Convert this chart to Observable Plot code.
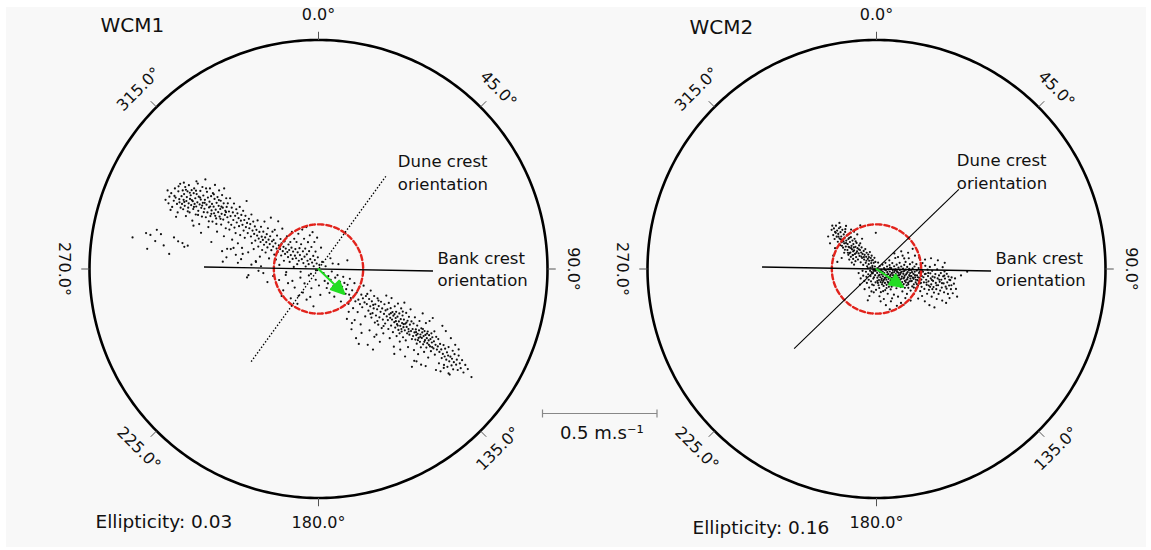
<!DOCTYPE html>
<html><head><meta charset="utf-8">
<script src="https://cdn.jsdelivr.net/npm/d3@7"></script>
<script src="https://cdn.jsdelivr.net/npm/@observablehq/plot@0.6"></script>
<style>
html,body{margin:0;padding:0;background:#fff;}
#wrap{position:relative;width:1151px;height:550px;overflow:hidden;}
#bg{position:absolute;left:6px;top:7px;width:1140px;height:540px;background:#f8f8f8;}
#wrap svg{position:absolute;left:0;top:0;}
</style></head><body><div id="wrap"><div id="bg"></div></div>
<script>
// ---------------- data ----------------
const panels = ["WCM1", "WCM2"];
const ellipticity = [0.03, 0.16];
const meanSpeed = [0.195, 0.195];          // red dashed ring (m/s)
const outerRing = 1.0;                      // outer ring (m/s)
const bankCrest = [91, 91];                 // orientation (deg)
const duneCrest = [36, 46];                 // orientation (deg)
const crestHalfLength = 0.5;                // m/s
const residualBearing = [134, 124];         // green arrow (deg)
const residualSpeed = [0.157, 0.14];        // green arrow (m/s)
const bearingTicks = [0, 45, 90, 135, 180, 225, 270, 315];
const scaleBarValue = 0.5;                  // m/s
const lineLabels = ["Dune crest\norientation", "Bank crest\norientation"];

// velocity samples [east, north] in m/s
const wcm1Points = [
[-0.812,0.138],[-0.753,0.157],[-0.734,0.149],[-0.748,0.088],[-0.706,0.171],[-0.688,0.152],[-0.652,0.066],[-0.631,0.138],[-0.613,0.121],[-0.594,0.113],[-0.586,0.097],[-0.571,0.102],[-0.713,0.122],[-0.676,0.103],
[-0.668,0.302],[-0.655,0.287],[-0.651,0.316],[-0.643,0.331],[-0.639,0.271],[-0.632,0.298],[-0.627,0.352],[-0.624,0.312],[-0.618,0.284],[-0.615,0.247],[-0.612,0.339],[-0.608,0.305],[-0.604,0.372],[-0.602,0.268],[-0.611,0.361],[-0.646,0.258],[-0.622,0.228],[-0.659,0.343],[-0.607,0.291],[-0.629,0.319],
[-0.598,0.318],[-0.596,0.284],[-0.593,0.343],[-0.591,0.261],[-0.589,0.302],[-0.587,0.327],[-0.584,0.276],[-0.582,0.358],[-0.579,0.231],[-0.577,0.297],[-0.575,0.314],[-0.572,0.339],[-0.569,0.268],[-0.567,0.287],[-0.566,0.366],[-0.563,0.247],[-0.561,0.306],[-0.558,0.322],[-0.556,0.279],[-0.554,0.344],[-0.551,0.211],[-0.549,0.296],[-0.547,0.262],[-0.545,0.331],[-0.543,0.352],[-0.541,0.284],[-0.538,0.309],[-0.536,0.238],[-0.534,0.273],[-0.532,0.327],[-0.529,0.291],[-0.527,0.373],[-0.525,0.254],[-0.523,0.316],[-0.521,0.196],[-0.519,0.282],[-0.516,0.341],[-0.514,0.303],[-0.512,0.267],[-0.509,0.229],[-0.507,0.358],[-0.505,0.289],[-0.503,0.321],[-0.501,0.248],[-0.571,0.252],[-0.562,0.333],[-0.553,0.301],[-0.544,0.271],[-0.535,0.342],[-0.526,0.236],[-0.517,0.312],[-0.508,0.277],[-0.586,0.293],[-0.579,0.346],[-0.546,0.189],[-0.513,0.158],[-0.533,0.383],[-0.588,0.377],
[-0.498,0.263],[-0.496,0.302],[-0.494,0.391],[-0.492,0.226],[-0.489,0.281],[-0.487,0.337],[-0.485,0.247],[-0.483,0.312],[-0.481,0.183],[-0.478,0.269],[-0.476,0.294],[-0.474,0.352],[-0.472,0.231],[-0.469,0.318],[-0.467,0.256],[-0.465,0.284],[-0.463,0.207],[-0.461,0.331],[-0.458,0.272],[-0.456,0.243],[-0.454,0.306],[-0.452,0.367],[-0.449,0.259],[-0.447,0.221],[-0.445,0.289],[-0.443,0.163],[-0.441,0.314],[-0.438,0.248],[-0.436,0.276],[-0.434,0.343],[-0.432,0.229],[-0.429,0.262],[-0.427,0.298],[-0.425,0.194],[-0.423,0.241],[-0.421,0.323],[-0.418,0.268],[-0.416,0.216],[-0.414,0.287],[-0.412,0.352],[-0.409,0.236],[-0.407,0.254],[-0.405,0.178],[-0.403,0.309],[-0.401,0.271],[-0.491,0.352],[-0.479,0.208],[-0.468,0.241],[-0.457,0.326],[-0.446,0.197],[-0.435,0.301],[-0.424,0.272],[-0.413,0.143],[-0.497,0.289],[-0.473,0.273],[-0.451,0.232],[-0.428,0.219],[-0.404,0.248],
[-0.398,0.226],[-0.396,0.287],[-0.393,0.204],[-0.391,0.251],[-0.389,0.172],[-0.386,0.309],[-0.384,0.231],[-0.381,0.193],[-0.379,0.268],[-0.377,0.128],[-0.374,0.247],[-0.372,0.214],[-0.369,0.286],[-0.367,0.181],[-0.364,0.232],[-0.362,0.157],[-0.359,0.261],[-0.357,0.203],[-0.354,0.243],[-0.352,0.112],[-0.349,0.222],[-0.347,0.187],[-0.344,0.271],[-0.342,0.148],[-0.339,0.211],[-0.337,0.236],[-0.334,0.092],[-0.332,0.193],[-0.329,0.254],[-0.327,0.168],[-0.324,0.214],[-0.322,0.136],[-0.319,0.232],[-0.317,0.183],[-0.314,0.297],[-0.312,0.201],[-0.309,0.157],[-0.307,0.073],[-0.304,0.219],[-0.302,0.178],[-0.383,0.087],[-0.361,0.062],[-0.338,0.043],
[-0.298,0.196],[-0.295,0.142],[-0.293,0.238],[-0.291,0.113],[-0.288,0.168],[-0.285,0.207],[-0.283,0.087],[-0.281,0.153],[-0.278,0.186],[-0.276,0.124],[-0.273,0.031],[-0.271,0.171],[-0.268,0.146],[-0.266,0.212],[-0.263,0.098],[-0.261,0.133],[-0.258,0.162],[-0.256,0.054],[-0.253,0.118],[-0.251,0.184],[-0.248,0.141],[-0.246,0.083],[-0.243,0.127],[-0.241,0.163],[-0.238,0.106],[-0.236,0.207],[-0.233,0.138],[-0.231,0.072],[-0.228,0.117],[-0.226,0.152],[-0.223,0.094],[-0.221,0.178],[-0.218,0.128],[-0.216,0.046],[-0.213,0.109],[-0.211,0.143],[-0.208,0.224],[-0.206,0.082],[-0.203,0.121],[-0.201,0.163],
[-0.198,0.098],[-0.196,0.127],[-0.193,0.063],[-0.191,0.171],[-0.188,0.112],[-0.186,0.041],[-0.183,0.089],[-0.181,0.146],[-0.178,0.074],[-0.176,0.208],[-0.173,0.103],[-0.171,0.018],[-0.168,0.087],[-0.166,0.131],[-0.163,0.059],[-0.161,0.112],[-0.158,0.176],[-0.156,0.078],[-0.153,0.097],[-0.151,0.036],[-0.148,0.121],[-0.146,0.066],[-0.143,0.089],[-0.141,-0.014],[-0.138,0.143],[-0.136,0.074],[-0.133,0.052],[-0.131,0.107],[-0.128,0.083],[-0.126,0.031],[-0.123,0.118],[-0.121,0.061],[-0.118,0.093],[-0.116,0.162],[-0.113,0.044],[-0.111,0.076],[-0.108,0.009],[-0.106,0.132],[-0.103,0.058],[-0.101,0.087],
[-0.098,0.047],[-0.096,0.118],[-0.093,0.021],[-0.091,0.073],[-0.088,0.154],[-0.086,0.036],[-0.083,0.091],[-0.081,0.061],[-0.078,-0.012],[-0.076,0.108],[-0.073,0.043],[-0.071,0.172],[-0.068,0.077],[-0.066,0.026],[-0.063,0.132],[-0.061,0.054],[-0.058,0.089],[-0.056,0.011],[-0.053,0.183],[-0.051,0.064],[-0.048,0.036],[-0.046,0.117],[-0.043,0.021],[-0.041,0.078],[-0.038,0.147],[-0.036,0.043],[-0.033,-0.021],[-0.031,0.096],[-0.028,0.028],[-0.026,0.161],[-0.023,0.057],[-0.021,0.012],[-0.018,0.118],[-0.016,0.039],[-0.013,0.076],[-0.011,-0.006],[-0.008,0.024],[-0.006,0.137],[-0.003,0.051],[0.004,0.018],[0.011,0.093],[0.016,0.031],
[-0.172,-0.048],[-0.154,-0.093],[-0.133,-0.062],[-0.121,-0.128],[-0.104,-0.081],[-0.092,-0.152],[-0.079,-0.038],[-0.068,-0.103],[-0.061,-0.063],[-0.052,-0.134],[-0.042,-0.028],[-0.031,-0.084],[-0.022,-0.163],[-0.012,-0.047],[0.008,-0.113],[-0.198,-0.031],[-0.161,-0.118],[-0.143,-0.026],[-0.087,-0.117],[-0.036,-0.122],[-0.114,-0.052],[0.002,-0.072],
[-0.241,-0.018],[-0.223,-0.057],[-0.262,-0.008],[-0.312,-0.037],[-0.421,0.078],[-0.402,0.051],[-0.371,0.092],[-0.352,0.027],[-0.331,0.066],[-0.293,0.019],[-0.274,0.034],[-0.468,0.118],[-0.399,0.088],[-0.418,0.032],[-0.306,-0.027],[-0.251,0.012],
[0.022,-0.018],[0.027,-0.052],[0.031,0.012],[0.036,-0.083],[0.043,-0.031],[0.048,-0.104],[0.053,-0.047],[0.058,-0.011],[0.064,-0.076],[0.069,-0.121],[0.073,-0.038],[0.078,-0.068],[0.083,-0.027],[0.089,-0.097],[0.094,-0.056],[0.098,-0.142],[0.103,-0.078],[0.108,-0.034],[0.113,-0.061],[0.118,-0.108],[0.052,0.047],[0.087,0.021],[0.126,0.038],[0.062,0.024],[0.041,-0.063],
[0.121,-0.088],[0.124,-0.218],[0.127,-0.069],[0.131,-0.152],[0.134,-0.112],[0.137,-0.043],[0.141,-0.127],[0.144,-0.263],[0.147,-0.093],[0.151,-0.171],[0.154,-0.118],[0.157,-0.062],[0.161,-0.141],[0.164,-0.302],[0.167,-0.103],[0.171,-0.188],[0.174,-0.134],[0.177,-0.081],[0.181,-0.153],[0.184,-0.242],[0.187,-0.112],[0.191,-0.167],[0.194,-0.128],[0.197,-0.073],[0.201,-0.146],[0.204,-0.207],[0.207,-0.118],[0.132,-0.187],[0.158,-0.223],[0.188,-0.279],[0.146,-0.236],[0.176,-0.327],
[0.211,-0.153],[0.213,-0.109],[0.215,-0.331],[0.218,-0.182],[0.221,-0.131],[0.223,-0.268],[0.226,-0.163],[0.228,-0.094],[0.231,-0.212],[0.233,-0.141],[0.236,-0.193],[0.238,-0.352],[0.241,-0.172],[0.243,-0.118],[0.246,-0.234],[0.248,-0.154],[0.251,-0.203],[0.253,-0.287],[0.256,-0.176],[0.258,-0.128],[0.261,-0.243],[0.263,-0.162],[0.266,-0.211],[0.268,-0.318],[0.271,-0.187],[0.273,-0.143],[0.276,-0.258],[0.278,-0.172],[0.281,-0.221],[0.283,-0.281],[0.286,-0.196],[0.288,-0.154],[0.291,-0.238],[0.293,-0.181],[0.296,-0.116],[0.298,-0.207],[0.227,-0.196],[0.244,-0.296],[0.262,-0.138],[0.284,-0.249],[0.257,-0.227],[0.239,-0.157],
[0.301,-0.176],[0.303,-0.223],[0.305,-0.262],[0.307,-0.148],[0.309,-0.198],[0.311,-0.302],[0.313,-0.213],[0.315,-0.171],[0.317,-0.247],[0.319,-0.127],[0.321,-0.221],[0.323,-0.188],[0.325,-0.276],[0.327,-0.204],[0.329,-0.339],[0.331,-0.232],[0.333,-0.163],[0.335,-0.256],[0.337,-0.214],[0.339,-0.187],[0.341,-0.293],[0.343,-0.241],[0.345,-0.208],[0.347,-0.151],[0.349,-0.266],[0.351,-0.229],[0.353,-0.194],[0.355,-0.317],[0.357,-0.248],[0.359,-0.219],[0.361,-0.172],[0.363,-0.273],[0.365,-0.236],[0.367,-0.203],[0.369,-0.298],[0.371,-0.254],[0.373,-0.221],[0.375,-0.147],[0.377,-0.268],[0.379,-0.239],[0.381,-0.312],[0.383,-0.192],[0.385,-0.253],[0.387,-0.281],[0.389,-0.226],[0.391,-0.341],[0.393,-0.262],[0.395,-0.209],[0.397,-0.287],[0.399,-0.243],[0.402,-0.176],[0.404,-0.271],[0.406,-0.229],[0.408,-0.306],[0.316,-0.193],[0.338,-0.228],[0.362,-0.262],[0.384,-0.234],[0.354,-0.281],[0.332,-0.197],[0.372,-0.241],[0.394,-0.273],[0.346,-0.247],[0.368,-0.186],
[0.411,-0.262],[0.413,-0.293],[0.415,-0.238],[0.417,-0.354],[0.419,-0.277],[0.421,-0.211],[0.423,-0.308],[0.425,-0.264],[0.427,-0.289],[0.429,-0.326],[0.431,-0.247],[0.433,-0.283],[0.435,-0.372],[0.437,-0.301],[0.439,-0.268],[0.441,-0.227],[0.443,-0.318],[0.445,-0.286],[0.447,-0.342],[0.449,-0.259],[0.451,-0.301],[0.453,-0.277],[0.455,-0.194],[0.457,-0.329],[0.459,-0.293],[0.461,-0.362],[0.463,-0.271],[0.465,-0.311],[0.467,-0.288],[0.469,-0.236],[0.471,-0.343],[0.473,-0.302],[0.475,-0.324],[0.477,-0.273],[0.479,-0.387],[0.481,-0.312],[0.483,-0.289],[0.485,-0.227],[0.487,-0.338],[0.489,-0.306],[0.491,-0.359],[0.493,-0.281],[0.495,-0.321],[0.497,-0.298],[0.499,-0.214],[0.502,-0.347],[0.504,-0.316],[0.506,-0.272],[0.508,-0.374],[0.511,-0.331],[0.514,-0.296],[0.517,-0.352],[0.426,-0.276],[0.444,-0.297],[0.462,-0.318],[0.482,-0.331],[0.434,-0.311],[0.456,-0.262],[0.474,-0.282],[0.496,-0.341],[0.418,-0.401],[0.448,-0.418],
[0.521,-0.338],[0.523,-0.306],[0.526,-0.412],[0.528,-0.362],[0.531,-0.327],[0.533,-0.447],[0.536,-0.351],[0.538,-0.389],[0.541,-0.248],[0.543,-0.371],[0.546,-0.332],[0.548,-0.419],[0.551,-0.382],[0.553,-0.348],[0.556,-0.271],[0.558,-0.396],[0.561,-0.364],[0.563,-0.427],[0.566,-0.378],[0.568,-0.341],[0.571,-0.403],[0.573,-0.461],[0.576,-0.383],[0.578,-0.302],[0.581,-0.421],[0.583,-0.392],[0.586,-0.357],[0.588,-0.438],[0.591,-0.407],[0.594,-0.372],[0.597,-0.331],[0.601,-0.418],[0.604,-0.396],[0.608,-0.441],[0.612,-0.378],[0.617,-0.412],[0.621,-0.433],[0.627,-0.398],[0.633,-0.452],[0.641,-0.419],[0.652,-0.437],[0.668,-0.472],[0.547,-0.432],[0.612,-0.351],
[0.331,-0.371],[0.378,-0.382],[0.428,-0.403],[0.468,-0.424],[0.513,-0.441],[0.568,-0.456],[0.408,-0.427],[0.357,-0.352]
];

const wcm2Points = [
[-0.196,0.171],[-0.193,0.189],[-0.189,0.148],[-0.186,0.177],[-0.183,0.131],[-0.181,0.162],[-0.177,0.189],[-0.174,0.141],[-0.172,0.168],[-0.169,0.119],[-0.167,0.153],[-0.164,0.178],[-0.161,0.133],[-0.159,0.104],[-0.157,0.161],[-0.154,0.142],[-0.152,0.117],[-0.149,0.171],[-0.147,0.128],[-0.146,0.093],[-0.143,0.151],[-0.141,0.112],[-0.139,0.137],[-0.137,0.162],[-0.134,0.098],[-0.132,0.124],[-0.129,0.147],[-0.127,0.083],[-0.126,0.109],[-0.123,0.131],[-0.121,0.152],[-0.118,0.094],[-0.116,0.118],[-0.114,0.072],[-0.112,0.139],[-0.109,0.101],[-0.107,0.086],[-0.105,0.124],[-0.103,0.061],[-0.101,0.109],[-0.098,0.081],[-0.096,0.132],[-0.094,0.066],[-0.092,0.097],[-0.089,0.052],[-0.087,0.114],[-0.085,0.077],[-0.083,0.091],[-0.081,0.041],[-0.078,0.068],[-0.076,0.103],[-0.074,0.057],[-0.072,0.083],[-0.069,0.029],[-0.067,0.072],[-0.065,0.094],[-0.063,0.048],[-0.061,0.066],[-0.058,0.018],[-0.056,0.079],[-0.054,0.041],[-0.052,0.062],[-0.049,0.087],[-0.047,0.027],[-0.045,0.053],[-0.043,0.071],[-0.041,0.012],[-0.038,0.044],[-0.036,0.063],[-0.034,0.021],[-0.032,0.036],[-0.029,0.074],[-0.027,0.006],[-0.025,0.048],[-0.023,0.026],[-0.021,0.058],[-0.018,0.014],[-0.016,0.039],[-0.014,-0.004],[-0.012,0.027],[-0.009,0.049],[-0.007,0.011],[-0.005,0.031],[-0.003,-0.008],
[-0.178,0.158],[-0.166,0.141],[-0.155,0.129],[-0.144,0.121],[-0.133,0.113],[-0.122,0.097],[-0.111,0.091],[-0.099,0.094],[-0.088,0.071],[-0.077,0.086],[-0.066,0.054],[-0.055,0.052],[-0.044,0.036],[-0.033,0.052],[-0.022,0.037],[-0.158,0.183],[-0.136,0.174],[-0.113,0.157],[-0.091,0.121],[-0.071,0.112],[-0.125,0.071],[-0.138,0.084],[-0.151,0.101],[-0.119,0.136],[-0.102,0.077],
[-0.123,0.062],[-0.119,0.041],[-0.112,0.053],[-0.108,0.028],[-0.102,0.044],[-0.098,0.019],[-0.092,0.034],[-0.141,0.071],[-0.152,0.048],[-0.181,0.091],[-0.189,0.058],[-0.171,0.031],[-0.203,0.112],[-0.162,0.201],[-0.133,0.188],[-0.111,0.172],[-0.084,0.151],[-0.063,0.132],[-0.211,0.142],[-0.098,0.163],[-0.071,0.191],[-0.003,0.158],[-0.118,0.069],[-0.104,0.061],
[-0.046,-0.012],[-0.044,-0.034],[-0.042,-0.061],[-0.038,0.004],[-0.036,-0.023],[-0.034,-0.047],[-0.032,-0.081],[-0.028,-0.008],[-0.026,-0.031],[-0.024,-0.054],[-0.022,-0.098],[-0.018,0.008],[-0.016,-0.019],[-0.014,-0.042],[-0.012,-0.071],[-0.008,-0.003],[-0.006,-0.027],[-0.004,-0.058],[-0.002,-0.091],[-0.021,-0.014],[-0.011,-0.036],
[0.002,0.002],[0.003,-0.017],[0.004,-0.038],[0.006,-0.061],[0.007,0.028],[0.008,-0.007],[0.009,-0.029],[0.011,-0.048],[0.012,-0.083],[0.013,-0.119],[0.014,0.012],[0.016,-0.014],[0.017,-0.036],[0.018,-0.057],[0.019,-0.101],[0.021,-0.004],[0.022,-0.024],[0.023,-0.043],[0.024,-0.067],[0.026,0.019],[0.027,-0.011],[0.028,-0.032],[0.029,-0.052],[0.031,-0.074],[0.032,-0.131],[0.033,0.004],[0.034,-0.018],[0.036,-0.039],[0.037,-0.061],[0.038,-0.092],[0.039,0.027],[0.041,-0.006],[0.042,-0.027],[0.043,-0.047],[0.044,-0.069],[0.046,0.011],[0.047,-0.014],[0.048,-0.034],[0.049,-0.056],[0.049,-0.108],
[0.051,-0.002],[0.052,-0.022],[0.053,-0.043],[0.054,-0.078],[0.056,0.038],[0.057,0.017],[0.058,-0.011],[0.059,-0.031],[0.061,-0.052],[0.062,-0.089],[0.063,-0.141],[0.064,0.004],[0.066,-0.018],[0.067,-0.039],[0.068,-0.064],[0.069,0.026],[0.071,-0.006],[0.072,-0.027],[0.073,-0.047],[0.074,-0.071],[0.076,-0.112],[0.077,0.012],[0.078,-0.013],[0.079,-0.034],[0.081,-0.056],[0.082,0.048],[0.083,-0.001],[0.084,-0.022],[0.086,-0.043],[0.087,-0.084],[0.088,0.019],[0.089,-0.009],[0.091,-0.029],[0.092,-0.051],[0.093,-0.072],[0.094,-0.121],[0.096,0.006],[0.097,-0.017],[0.098,-0.038],[0.099,-0.061],[0.062,-0.026],[0.085,-0.064],
[0.101,0.027],[0.102,-0.004],[0.103,-0.024],[0.104,-0.046],[0.106,-0.079],[0.107,-0.148],[0.108,0.011],[0.109,-0.012],[0.111,-0.033],[0.112,-0.057],[0.113,-0.098],[0.114,0.058],[0.116,0.002],[0.117,-0.021],[0.118,-0.041],[0.119,-0.066],[0.121,0.018],[0.122,-0.008],[0.123,-0.029],[0.124,-0.052],[0.126,-0.127],[0.127,0.031],[0.128,-0.003],[0.129,-0.024],[0.131,-0.047],[0.132,-0.071],[0.133,-0.109],[0.134,0.009],[0.136,-0.014],[0.137,-0.036],[0.138,-0.061],[0.139,-0.082],[0.141,0.047],[0.142,-0.006],[0.143,-0.027],[0.144,-0.054],[0.146,0.021],[0.147,-0.018],[0.148,-0.042],[0.149,-0.094],[0.149,-0.138],
[0.151,-0.004],[0.152,-0.031],[0.154,-0.052],[0.156,-0.076],[0.157,0.029],[0.158,0.003],[0.161,-0.021],[0.162,-0.043],[0.163,-0.067],[0.164,-0.108],[0.166,0.011],[0.167,-0.012],[0.169,-0.036],[0.171,-0.058],[0.172,-0.084],[0.174,0.021],[0.176,-0.007],[0.177,-0.028],[0.179,-0.049],[0.181,-0.072],[0.182,-0.129],[0.184,0.004],[0.186,-0.017],[0.187,-0.039],[0.189,-0.063],[0.191,-0.097],[0.193,0.017],[0.194,-0.024],[0.196,-0.046],[0.197,-0.078],[0.199,-0.004],[0.199,-0.118],
[0.201,0.026],[0.203,-0.012],[0.205,-0.036],[0.207,-0.058],[0.209,-0.087],[0.211,-0.141],[0.213,0.014],[0.215,-0.021],[0.217,-0.047],[0.219,-0.069],[0.221,-0.108],[0.223,-0.003],[0.225,-0.031],[0.227,-0.054],[0.229,-0.091],[0.231,-0.158],[0.233,0.009],[0.235,-0.019],[0.237,-0.041],[0.239,-0.067],[0.241,-0.121],[0.243,-0.008],[0.245,-0.033],[0.247,-0.052],[0.249,-0.079],[0.251,-0.103],[0.253,-0.168],[0.255,0.018],[0.257,-0.022],[0.259,-0.061],[0.261,-0.088],[0.263,-0.131],[0.265,-0.002],[0.267,-0.041],[0.269,-0.071],[0.271,-0.109],[0.273,-0.028],[0.276,-0.056],[0.278,-0.094],[0.244,-0.088],[0.228,-0.072],
[0.281,-0.018],[0.283,-0.047],[0.285,-0.081],[0.287,-0.138],[0.289,0.008],[0.291,-0.032],[0.293,-0.063],[0.295,-0.102],[0.297,-0.011],[0.299,-0.042],[0.302,-0.077],[0.304,-0.148],[0.307,-0.021],[0.309,-0.058],[0.312,-0.109],[0.314,-0.033],[0.317,-0.072],[0.319,-0.127],[0.322,-0.049],[0.325,-0.088],[0.328,-0.037],[0.333,-0.106],[0.338,-0.064],[0.343,-0.041],[0.347,-0.087],[0.369,-0.028],[0.396,-0.012],[0.352,-0.121],
[0.078,0.068],[0.108,0.077],[0.138,0.071],[0.168,0.058],[0.187,0.049],[0.121,0.046],[0.212,0.041],[0.238,0.047],[0.268,0.038],[0.298,0.027],[0.158,0.088],[0.094,0.052],
[-0.052,-0.088],[-0.031,-0.118],[-0.012,-0.102],[0.018,-0.141],[0.041,-0.158],[0.068,-0.128],[0.089,-0.161],[0.118,-0.157],[0.029,-0.097],[-0.038,-0.137],[0.058,-0.176],[-0.019,-0.068],
[-0.078,-0.018],[-0.069,-0.041],[-0.061,-0.008],[-0.053,-0.052],[-0.072,-0.068],[-0.058,-0.029],
[0.004,-0.052],[0.009,-0.071],[0.013,-0.026],[0.018,-0.009],[0.021,-0.048],[0.026,-0.059],[0.029,-0.021],[0.033,-0.046],[0.036,-0.003],[0.041,-0.038],[0.044,-0.083],[0.047,-0.024],[0.052,-0.061],[0.056,-0.037],[0.059,0.006],[0.063,-0.047],[0.066,-0.077],[0.071,-0.016],[0.074,-0.038],[0.077,-0.058],[0.081,-0.006],[0.084,-0.031],[0.088,-0.053],[0.091,-0.014],[0.095,-0.047],[0.098,-0.027],[0.103,-0.062],[0.106,-0.017],[0.109,-0.042],[0.113,-0.071],[0.117,-0.011],[0.121,-0.037],[0.124,-0.082],[0.128,-0.058],[0.132,-0.019],[0.135,-0.044],[0.139,-0.067],[0.143,0.001],[0.146,-0.031],[0.151,-0.053],[0.155,-0.014],[0.159,-0.038],[0.163,-0.081],[0.168,-0.027],[0.172,-0.047],[0.176,-0.066],[0.181,-0.036],[0.185,-0.054],[0.189,-0.011],[0.194,-0.061],[0.198,-0.031],[0.211,-0.022],[0.218,-0.059],[0.226,-0.017],[0.234,-0.078],[0.242,-0.048],[0.254,-0.037],[0.262,-0.071],[0.274,-0.047],[0.286,-0.062],[0.296,-0.029],[0.306,-0.086],[0.318,-0.047],[0.327,-0.071]
];
const pointSets = [wcm1Points, wcm2Points];

// ---------------- layout ----------------
const W = 1151, H = 550, PX = 229;      // pixels per m/s
const CX = [318, 876], CY = 268.5;
const FONT = "DejaVu Sans";
const dotRadius = [1.1, 1.1];
const titlePos = [[-218, -243.5], [-187, -241.5]];     // px from centre
const ellPos = [[-223, 253.5], [-184, 259.5]];
const duneLabelOff = [[12, -5], [-2, -19.5]];
const bankLabelOff = [[4.5, -3], [4.5, -3]];
const scaleBarPx = {x0: 542, y: 413};

const rad = d => d * Math.PI / 180;
const polar = (b, r) => ({x: r * Math.sin(rad(b)), y: r * Math.cos(rad(b))});
const ring = R => d3.range(0, 361, 1).map(a => polar(a, R));
const labelRotate = b => { const m = b % 180; return m <= 90 ? m : m - 180; };

const headShape = {
  draw(ctx, l) {
    const h = 13, w = 6;
    ctx.moveTo(0, 0); ctx.lineTo(0, -(l - h));
    ctx.moveTo(-w, -(l - h)); ctx.lineTo(0, -l); ctx.lineTo(w, -(l - h)); ctx.closePath();
  }
};

const wrap = document.getElementById("wrap");

panels.forEach((name, i) => {
  const cx = CX[i];
  const toX = px => px / PX, toY = py => -py / PX;
  const duneEnd = polar(duneCrest[i], crestHalfLength);
  const bankEnd = polar(bankCrest[i], crestHalfLength);
  const marks = [
    Plot.dot(pointSets[i], {x: d => d[0], y: d => d[1], r: dotRadius[i], fill: "#111", stroke: "none"}),
    Plot.line(ring(outerRing), {x: "x", y: "y", stroke: "#000", strokeWidth: 2.6}),
    Plot.link(bearingTicks, {x1: b => polar(b, outerRing).x, y1: b => polar(b, outerRing).y,
      x2: b => polar(b, outerRing * 1.036).x, y2: b => polar(b, outerRing * 1.036).y, stroke: "#555", strokeWidth: 1}),
    Plot.text(bearingTicks, {x: b => polar(b, outerRing * 1.11).x, y: b => polar(b, outerRing * 1.11).y,
      text: b => b.toFixed(1) + "°", rotate: labelRotate, fontSize: 16, fill: "#111"}),
    Plot.line(ring(meanSpeed[i]), {x: "x", y: "y", stroke: "#e2231c", strokeWidth: 2.4, strokeDasharray: "5,3"}),
    Plot.link([bankCrest[i]], {x1: b => polar(b + 180, crestHalfLength).x, y1: b => polar(b + 180, crestHalfLength).y,
      x2: b => polar(b, crestHalfLength).x, y2: b => polar(b, crestHalfLength).y, stroke: "#000", strokeWidth: 1.3}),
    Plot.link([duneCrest[i]], {x1: b => polar(b + 180, crestHalfLength).x, y1: b => polar(b + 180, crestHalfLength).y,
      x2: b => polar(b, crestHalfLength).x, y2: b => polar(b, crestHalfLength).y, stroke: "#000",
      strokeWidth: i === 0 ? 1.4 : 1.1, strokeDasharray: i === 0 ? "1.4,2" : null}),
    Plot.vector([0], {x: () => 0, y: () => 0, rotate: () => residualBearing[i], length: () => residualSpeed[i],
      anchor: "start", shape: headShape, stroke: "#22dd22", fill: "#22dd22", strokeWidth: 2}),
    Plot.text([lineLabels[0]], {x: duneEnd.x + toX(duneLabelOff[i][0]), y: duneEnd.y + toY(duneLabelOff[i][1]),
      text: d => d, textAnchor: "start", lineAnchor: "middle", lineHeight: 1.4, fontSize: 16.5, fill: "#111"}),
    Plot.text([lineLabels[1]], {x: bankEnd.x + toX(bankLabelOff[i][0]), y: bankEnd.y + toY(bankLabelOff[i][1]),
      text: d => d, textAnchor: "start", lineAnchor: "middle", lineHeight: 1.3, fontSize: 16.5, fill: "#111"}),
    Plot.text([name], {x: toX(titlePos[i][0]), y: toY(titlePos[i][1]), text: d => d, textAnchor: "start", fontSize: 20, fill: "#111"}),
    Plot.text([ellipticity[i]], {x: toX(ellPos[i][0]), y: toY(ellPos[i][1]), text: d => "Ellipticity: " + d.toFixed(2),
      textAnchor: "start", fontSize: 18.5, fill: "#111"})
  ];
  if (i === 0) {
    const u0 = (scaleBarPx.x0 - cx) / PX, v0 = (CY - scaleBarPx.y) / PX;
    const bar = [{u1: u0, u2: u0 + scaleBarValue}];
    marks.push(
      Plot.link(bar, {x1: "u1", x2: "u2", y1: v0, y2: v0, stroke: "#888", strokeWidth: 1.2}),
      Plot.link([u0, u0 + scaleBarValue], {x1: d => d, x2: d => d, y1: v0 + 4 / PX, y2: v0 - 4 / PX, stroke: "#888", strokeWidth: 1.2}),
      Plot.text([scaleBarValue], {x: u0 + scaleBarValue / 2 + 2 / PX, y: v0 - 20 / PX, text: d => d + " m.s⁻¹", fontSize: 18, fill: "#111"})
    );
  }
  const svg = Plot.plot({
    width: W, height: H, margin: 0,
    x: {domain: [-cx / PX, (W - cx) / PX], axis: null},
    y: {domain: [-(H - CY) / PX, CY / PX], axis: null},
    length: {type: "linear", domain: [0, 1], range: [0, PX]},
    style: {background: "transparent", fontFamily: FONT, overflow: "visible"},
    marks
  });
  wrap.appendChild(svg);
});
</script></body></html>
